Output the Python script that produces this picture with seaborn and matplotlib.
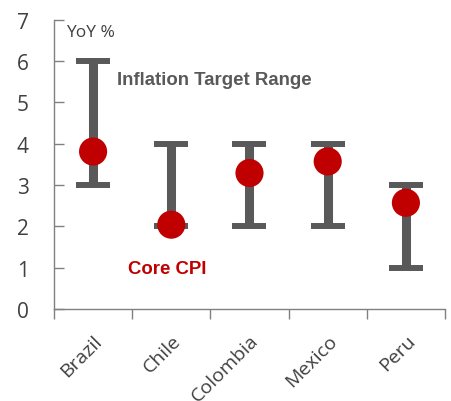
import numpy as np
import matplotlib
matplotlib.use("Agg")
import matplotlib.pyplot as plt
import seaborn as sns

countries = ["Brazil", "Chile", "Colombia", "Mexico", "Peru"]
target_low = [3.0, 2.0, 2.0, 2.0, 1.0]
target_high = [6.0, 4.0, 4.0, 4.0, 3.0]
core_cpi = [3.81, 2.04, 3.29, 3.57, 2.57]

GREY = "#595959"
TEXT = "#404040"
RED = "#C00000"

sns.set_style("white")
plt.rcParams["font.family"] = ["Open Sans", "DejaVu Sans"]

fig = plt.figure(figsize=(4.51, 4.02), dpi=100)
ax = fig.add_axes([0.1197, 0.2289, 0.867, 0.7196])

x = np.arange(len(countries))
low = np.array(target_low)
high = np.array(target_high)
mid = (low + high) / 2
ax.errorbar(x, mid, yerr=(high - low) / 2, fmt="none", ecolor=GREY,
            elinewidth=6.5, capsize=12, capthick=4.3, zorder=2)

sns.scatterplot(x=x, y=core_cpi, s=410, color=RED, edgecolor="none",
                ax=ax, zorder=3, legend=False)

ax.set_xlim(-0.5, 4.5)
ax.set_ylim(0, 7)
ax.set_yticks(range(0, 8))
ax.set_xticks(x)
ax.set_xticklabels(countries, rotation=45, ha="right", rotation_mode="anchor",
                   fontsize=14, color=TEXT)
ax.set_xticks(np.arange(-0.5, 5, 1), minor=True)
ax.tick_params(axis="x", which="major", bottom=False, length=0, pad=16)
ax.tick_params(axis="x", which="minor", bottom=True, direction="out", length=7,
               width=1, color="#808080")
ax.tick_params(axis="y", left=True, direction="in", length=7, width=1,
               color="#808080", labelsize=15, labelcolor=TEXT, pad=18)

for s in ["top", "right"]:
    ax.spines[s].set_visible(False)
for s in ["left", "bottom"]:
    ax.spines[s].set_color("#808080")
    ax.spines[s].set_linewidth(1)

ax.text(0.03, 0.985, "YoY %", transform=ax.transAxes, fontsize=12.5,
        color=TEXT, va="top", ha="left")
ax.text(0.3, 5.55, "Inflation Target Range", fontsize=13.4, fontweight="bold",
        color=GREY, family="Liberation Sans", va="center", ha="left")
ax.text(0.45, 0.97, "Core CPI", fontsize=13.4, fontweight="bold",
        color=RED, family="Liberation Sans", va="center", ha="left")

fig.savefig("out.png", dpi=100)
